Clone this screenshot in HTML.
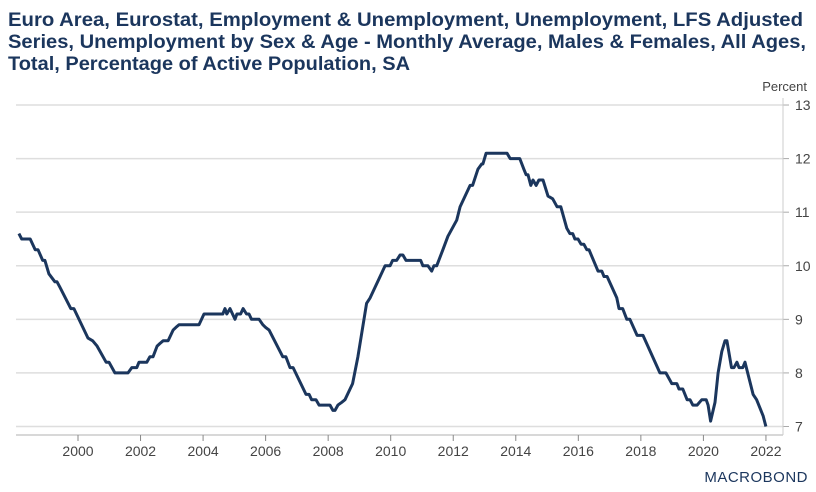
<!DOCTYPE html>
<html><head><meta charset="utf-8"><style>
html,body{margin:0;padding:0;background:#fff;}
svg{display:block;font-family:"Liberation Sans",Arial,sans-serif;}
</style></head><body>
<svg id="chart" width="816" height="492" viewBox="0 0 816 492">
<g fill="#1b365d" font-weight="bold" font-size="19">
<text x="8" y="26" textLength="795" lengthAdjust="spacingAndGlyphs">Euro Area, Eurostat, Employment &amp; Unemployment, Unemployment, LFS Adjusted</text>
<text x="8" y="48" textLength="798" lengthAdjust="spacingAndGlyphs">Series, Unemployment by Sex &amp; Age - Monthly Average, Males &amp; Females, All Ages,</text>
<text x="8" y="70" textLength="402" lengthAdjust="spacingAndGlyphs">Total, Percentage of Active Population, SA</text>
</g>
<text x="807" y="91" text-anchor="end" font-size="13" fill="#444">Percent</text>
<g id="grid"></g>
<g id="axes"></g>
<path id="line" fill="none" stroke="#1b365d" stroke-width="3" stroke-linejoin="round"></path>
<text x="808" y="482" text-anchor="end" font-size="15" fill="#1b365d" letter-spacing="0.5">MACROBOND</text>
</svg>
<script>
const years = [1998.11,1998.20,1998.47,1998.63,1998.72,1998.87,1998.94,1999.07,1999.26,1999.33,1999.42,1999.77,1999.87,2000.32,2000.47,2000.61,2000.90,2000.99,2001.18,2001.60,2001.72,2001.88,2001.95,2002.20,2002.30,2002.40,2002.53,2002.62,2002.72,2002.88,2003.04,2003.13,2003.23,2003.87,2004.03,2004.63,2004.70,2004.76,2004.86,2005.02,2005.08,2005.20,2005.28,2005.39,2005.47,2005.55,2005.79,2005.91,2006.00,2006.11,2006.55,2006.65,2006.78,2006.88,2007.29,2007.39,2007.47,2007.61,2007.71,2008.06,2008.15,2008.22,2008.31,2008.43,2008.54,2008.78,2008.95,2009.23,2009.34,2009.82,2009.98,2010.06,2010.19,2010.30,2010.39,2010.49,2010.96,2011.03,2011.19,2011.31,2011.38,2011.47,2011.67,2011.83,2012.11,2012.22,2012.54,2012.62,2012.79,2012.91,2012.95,2013.05,2013.72,2013.82,2014.13,2014.26,2014.33,2014.39,2014.48,2014.55,2014.65,2014.74,2014.87,2015.03,2015.18,2015.32,2015.44,2015.63,2015.73,2015.82,2015.89,2015.99,2016.09,2016.18,2016.27,2016.34,2016.63,2016.75,2016.82,2016.92,2017.23,2017.30,2017.42,2017.55,2017.65,2017.88,2018.07,2018.61,2018.80,2018.99,2019.15,2019.22,2019.34,2019.48,2019.57,2019.66,2019.80,2019.95,2020.09,2020.15,2020.23,2020.37,2020.47,2020.59,2020.69,2020.75,2020.90,2020.98,2021.07,2021.14,2021.26,2021.33,2021.59,2021.70,2021.91,2022.00];
const values = [10.6,10.5,10.5,10.3,10.3,10.1,10.1,9.85,9.7,9.7,9.6,9.2,9.2,8.65,8.6,8.5,8.2,8.2,8.0,8.0,8.1,8.1,8.2,8.2,8.3,8.3,8.5,8.55,8.6,8.6,8.8,8.85,8.9,8.9,9.1,9.1,9.2,9.1,9.2,9.0,9.1,9.1,9.2,9.1,9.1,9.0,9.0,8.9,8.85,8.8,8.3,8.3,8.1,8.1,7.6,7.6,7.5,7.5,7.4,7.4,7.3,7.3,7.4,7.45,7.5,7.8,8.3,9.3,9.4,10.0,10.0,10.1,10.1,10.2,10.2,10.1,10.1,10.0,10.0,9.9,10.0,10.0,10.3,10.55,10.85,11.1,11.5,11.5,11.8,11.9,11.9,12.1,12.1,12.0,12.0,11.8,11.7,11.7,11.5,11.6,11.5,11.6,11.6,11.3,11.25,11.1,11.1,10.7,10.6,10.6,10.5,10.5,10.4,10.4,10.3,10.3,9.9,9.9,9.8,9.8,9.4,9.2,9.2,9.0,9.0,8.7,8.7,8.0,8.0,7.8,7.8,7.7,7.7,7.5,7.5,7.4,7.4,7.5,7.5,7.4,7.1,7.45,8.0,8.4,8.6,8.6,8.1,8.1,8.2,8.1,8.1,8.2,7.6,7.5,7.2,7.0];
const yTicks = [7,8,9,10,11,12,13];
const xTicks = [2000,2002,2004,2006,2008,2010,2012,2014,2016,2018,2020,2022];
const NS='http://www.w3.org/2000/svg';
const X = y => 78 + (y-2000)*31.27;
const Y = v => 426.5 - (v-7)*53.58;
const grid=document.getElementById('grid'), axes=document.getElementById('axes');
function mk(tag,attrs,parent){const e=document.createElementNS(NS,tag);for(const k in attrs)e.setAttribute(k,attrs[k]);parent.appendChild(e);return e;}
yTicks.forEach(v=>{
  const gl=mk('line',{x1:16,x2:783,y1:Y(v),y2:Y(v),stroke:'#dedede','stroke-width':1.5},grid);
  
  
  mk('line',{x1:783,x2:789,y1:Y(v),y2:Y(v),stroke:'#aaa'},axes);
  const t=mk('text',{x:795,y:Y(v)+5,'font-size':14,fill:'#444'},axes);
  t.textContent=v;
  
  
});
mk('line',{x1:783,x2:783,y1:98,y2:435,stroke:'#ccc'},axes);
mk('line',{x1:16,x2:783,y1:435,y2:435,stroke:'#ccc','stroke-width':1.5},axes);
xTicks.forEach(yr=>{
  mk('line',{x1:X(yr),x2:X(yr),y1:435,y2:441,stroke:'#888'},axes);
  const t=mk('text',{x:X(yr),y:456,'font-size':14,fill:'#444','text-anchor':'middle'},axes);
  t.textContent=yr;
  
  
});
document.getElementById('line').setAttribute('d',years.map((yr,i)=>(i?'L':'M')+X(yr).toFixed(1)+','+Y(values[i]).toFixed(1)).join(''));
</script>
</body></html>
